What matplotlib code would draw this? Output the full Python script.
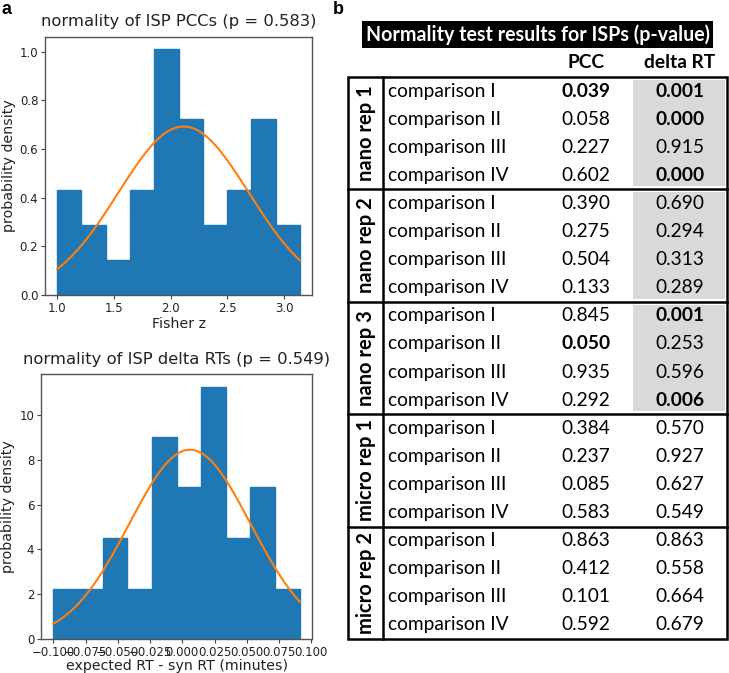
import numpy as np
import matplotlib
matplotlib.use("Agg")
import matplotlib.pyplot as plt
from matplotlib.patches import Rectangle

# ---------------- data ----------------
pcc_edges = [1.000, 1.214, 1.428, 1.642, 1.856, 2.070, 2.284, 2.498, 2.712, 2.926, 3.140]
pcc_density = [0.432, 0.288, 0.145, 0.432, 1.010, 0.722, 0.288, 0.432, 0.722, 0.288]
pcc_fit_mean, pcc_fit_sd = 2.115, 0.576

rt_edges = [-0.1000, -0.0809, -0.0618, -0.0427, -0.0236, -0.0045, 0.0146, 0.0337, 0.0528, 0.0719, 0.0910]
rt_density = [2.25, 2.25, 4.49, 2.25, 9.01, 6.77, 11.27, 4.49, 6.77, 2.25]
rt_fit_mean, rt_fit_sd = 0.0059, 0.0472

groups = ["nano rep 1", "nano rep 2", "nano rep 3", "micro rep 1", "micro rep 2"]
comparisons = ["comparison I", "comparison II", "comparison III", "comparison IV"]
pcc_p = [[0.039, 0.058, 0.227, 0.602],
         [0.390, 0.275, 0.504, 0.133],
         [0.845, 0.050, 0.935, 0.292],
         [0.384, 0.237, 0.085, 0.583],
         [0.863, 0.412, 0.101, 0.592]]
drt_p = [[0.001, 0.000, 0.915, 0.000],
         [0.690, 0.294, 0.313, 0.289],
         [0.001, 0.253, 0.596, 0.006],
         [0.570, 0.927, 0.627, 0.549],
         [0.863, 0.558, 0.664, 0.679]]
shaded_groups = ["nano rep 1", "nano rep 2", "nano rep 3"]
col_headers = ["PCC", "delta RT"]
table_title = "Normality test results for ISPs (p-value)"

W, H = 729, 673
fig = plt.figure(figsize=(W / 100, H / 100), dpi=100)

def px_axes(l, t, r, b):
    return fig.add_axes([l / W, 1 - b / H, (r - l) / W, (b - t) / H])

def normpdf(x, m, s):
    return np.exp(-0.5 * ((x - m) / s) ** 2) / (s * np.sqrt(2 * np.pi))

def style(ax):
    for sp in ax.spines.values():
        sp.set_color("#555555")
        sp.set_linewidth(1.0)
    ax.tick_params(colors="#444444", labelcolor="#222222", labelsize=8.5,
                   length=2.6, pad=2.2)

TITLE_FS = 11.8
LABEL_FS = 10.2
TXT = "#222222"

# ---------------- panel a, top ----------------
ax1 = px_axes(45, 37, 312, 295)
c1 = [(pcc_edges[i] + pcc_edges[i + 1]) / 2 for i in range(len(pcc_density))]
ax1.hist(c1, bins=pcc_edges, weights=pcc_density, histtype="stepfilled",
         color="#1f77b4", edgecolor="#1f77b4")
x1 = np.linspace(pcc_edges[0], pcc_edges[-1], 200)
ax1.plot(x1, normpdf(x1, pcc_fit_mean, pcc_fit_sd), color="#ff7f0e", lw=1.5)
ax1.set_xticks([1.0, 1.5, 2.0, 2.5, 3.0])
ax1.set_yticks([0.0, 0.2, 0.4, 0.6, 0.8, 1.0])
ax1.set_title("normality of ISP PCCs (p = 0.583)", fontsize=TITLE_FS, color=TXT, pad=8)
ax1.set_xlabel("Fisher z", fontsize=LABEL_FS, color=TXT, labelpad=2)
ax1.set_ylabel("probability density", fontsize=LABEL_FS, color=TXT, labelpad=3)
style(ax1)

# ---------------- panel a, bottom ----------------
ax2 = px_axes(41, 374, 312, 639)
c2 = [(rt_edges[i] + rt_edges[i + 1]) / 2 for i in range(len(rt_density))]
ax2.hist(c2, bins=rt_edges, weights=rt_density, histtype="stepfilled",
         color="#1f77b4", edgecolor="#1f77b4")
x2 = np.linspace(rt_edges[0], rt_edges[-1], 200)
ax2.plot(x2, normpdf(x2, rt_fit_mean, rt_fit_sd), color="#ff7f0e", lw=1.5)
ax2.set_xticks([-0.1, -0.075, -0.05, -0.025, 0.0, 0.025, 0.05, 0.075, 0.1])
ax2.set_xticklabels(["\u22120.100", "\u22120.075", "\u22120.050", "\u22120.025",
                     "0.000", "0.025", "0.050", "0.075", "0.100"])
ax2.set_yticks([0, 2, 4, 6, 8, 10])
ax2.set_title("normality of ISP delta RTs (p = 0.549)", fontsize=TITLE_FS, color=TXT, pad=7)
ax2.set_xlabel("expected RT - syn RT (minutes)", fontsize=LABEL_FS, color=TXT, labelpad=0.5)
ax2.set_ylabel("probability density", fontsize=LABEL_FS, color=TXT, labelpad=3)
style(ax2)

fig.text(2 / W, 1 - 9 / H, "a", fontsize=13, fontweight="bold",
         family="Liberation Sans", va="center", ha="left")
fig.text(333 / W, 1 - 9 / H, "b", fontsize=13, fontweight="bold",
         family="Liberation Sans", va="center", ha="left")

# ---------------- panel b: table ----------------
axt = fig.add_axes([0, 0, 1, 1])
axt.set_xlim(0, W)
axt.set_ylim(H, 0)
axt.axis("off")
axt.patch.set_visible(False)

tfont = "Lato"
fs = 13.8
# title bar
axt.add_patch(Rectangle((362, 21), 351, 27, facecolor="black", edgecolor="none"))
axt.text((362 + 713) / 2 + 1, 34.5, table_title, color="white", fontsize=14.1,
         fontweight="bold", family=tfont, ha="center", va="center")

x_left, x_div, x_right = 348, 383, 727
y_top, y_bot = 77, 639
gh = (y_bot - y_top) / len(groups)
rh = gh / len(comparisons)
x_pcc, x_drt = 586, 680
x_lab = 388

axt.text(x_pcc, 63, col_headers[0], fontsize=fs, fontweight="bold", family=tfont,
         ha="center", va="center")
axt.text(x_drt, 63, col_headers[1], fontsize=fs, fontweight="bold", family=tfont,
         ha="center", va="center")

for gi, g in enumerate(groups):
    gt = y_top + gi * gh
    if g in shaded_groups:
        axt.add_patch(Rectangle((633, gt + 3), 92, gh - 6, facecolor="#d9d9d9",
                                edgecolor="none", zorder=0))
    axt.text((x_left + x_div) / 2 + 1, gt + gh / 2, g, rotation=90, fontsize=14.5,
             fontweight="bold", family=tfont, ha="center", va="center")
    for ri, cmp in enumerate(comparisons):
        yc = gt + (ri + 0.5) * rh
        axt.text(x_lab, yc, cmp, fontsize=fs, family=tfont, ha="left", va="center")
        pv = pcc_p[gi][ri]
        dv = drt_p[gi][ri]
        axt.text(x_pcc, yc, f"{pv:.3f}", fontsize=fs, family=tfont, ha="center",
                 va="center", fontweight="bold" if pv <= 0.05 else "normal")
        axt.text(x_drt, yc, f"{dv:.3f}", fontsize=fs, family=tfont, ha="center",
                 va="center", fontweight="bold" if dv <= 0.05 else "normal")
    if gi > 0:
        axt.plot([x_left, x_right], [gt, gt], color="black", lw=1.8)

axt.add_patch(Rectangle((x_left, y_top), x_right - x_left, y_bot - y_top,
                        facecolor="none", edgecolor="black", lw=1.8))
axt.plot([x_div, x_div], [y_top, y_bot], color="black", lw=1.8)

fig.savefig("out.png", dpi=100)
